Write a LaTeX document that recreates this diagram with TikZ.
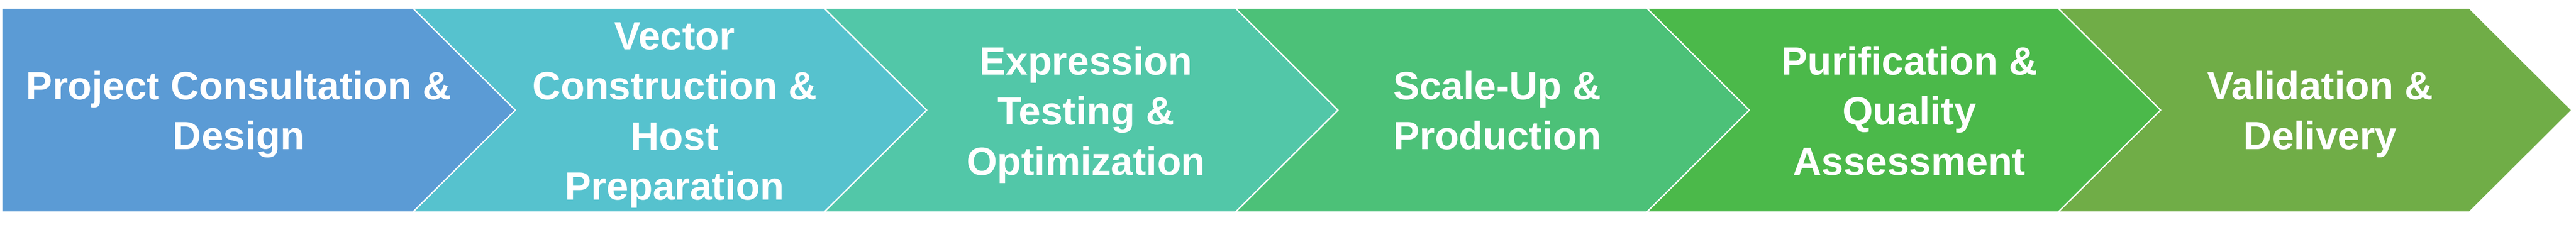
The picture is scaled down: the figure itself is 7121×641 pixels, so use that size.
\documentclass[tikz,border=0pt]{standalone}
\usepackage{fontspec}
\setmainfont{Liberation Sans}
\usepackage{xcolor}
\definecolor{stepA}{HTML}{5B9BD5}
\definecolor{stepB}{HTML}{56C2CE}
\definecolor{stepC}{HTML}{52C7A8}
\definecolor{stepD}{HTML}{4CC178}
\definecolor{stepE}{HTML}{4BB94A}
\definecolor{stepF}{HTML}{70AD47}
\tikzstyle{chevron} = [draw=white, 
line width=0.3pt, 
line join=miter]
\tikzstyle{steptext} = [text=white, 
align=center, 
anchor=base, 
inner sep=0pt, 
font=\fontsize{10.9pt}{13.9pt}\selectfont\bfseries]
\begin{document}
\begin{tikzpicture}[x=0.1pt, y=-0.1pt]
		\useasboundingbox (0,0) rectangle (7121,641);
		
		% chevrons
		\filldraw [chevron, fill=stepA] (5,23) -- (1141,23) -- (1424,305) -- (1141,587) -- (5,587) -- cycle;
		\filldraw [chevron, fill=stepB] (1142,23) -- (2278,23) -- (2561,305) -- (2278,587) -- (1142,587) -- (1425,305) -- cycle;
		\filldraw [chevron, fill=stepC] (2279,23) -- (3415,23) -- (3698,305) -- (3415,587) -- (2279,587) -- (2562,305) -- cycle;
		\filldraw [chevron, fill=stepD] (3416,23) -- (4552,23) -- (4835,305) -- (4552,587) -- (3416,587) -- (3699,305) -- cycle;
		\filldraw [chevron, fill=stepE] (4553,23) -- (5689,23) -- (5972,305) -- (5689,587) -- (4553,587) -- (4836,305) -- cycle;
		\filldraw [chevron, fill=stepF] (5690,23) -- (6826,23) -- (7109,305) -- (6826,587) -- (5690,587) -- (5973,305) -- cycle;
		
		% labels (placed at the baseline of the last line)
		\node (design) [steptext] at (660,414) {Project Consultation \&\\Design};
		\node (vector) [steptext] at (1865,554) {Vector\\Construction \&\\Host\\Preparation};
		\node (express) [steptext] at (3002,485) {Expression\\Testing \&\\Optimization};
		\node (scaleup) [steptext] at (4139,414) {Scale-Up \&\\Production};
		\node (purify) [steptext] at (5278,485) {Purification \&\\Quality\\Assessment};
		\node (deliver) [steptext] at (6414,414) {Validation \&\\Delivery};
		
\end{tikzpicture}
\end{document}
